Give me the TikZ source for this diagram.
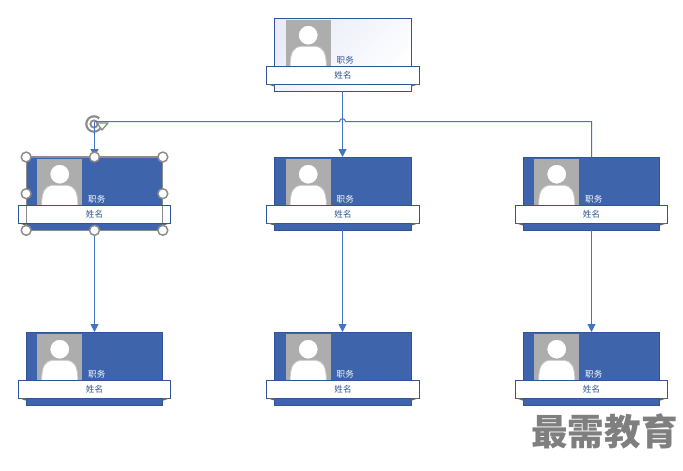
\documentclass[tikz,border=0pt]{standalone}
\usepackage{fontspec}
\newfontfamily\cjk{Noto Sans CJK SC}
\usetikzlibrary{arrows.meta,shadings}
\definecolor{cardblue}{HTML}{3E64AC}
\definecolor{edgeblue}{HTML}{2F5597}
\definecolor{linkblue}{HTML}{4472C4}
\definecolor{photogray}{HTML}{ADADAD}
\definecolor{shadegray}{HTML}{C8C8C8}
\definecolor{handlegray}{HTML}{8C8C8C}
\definecolor{markgray}{HTML}{7F7F7F}
\definecolor{lavender}{HTML}{E9ECF7}
\tikzset{
  x=0.75pt,y=-0.75pt,
  every node/.style={font=\cjk},
  cardbox/.style={draw=edgeblue,line width=0.75pt,fill=cardblue,minimum width=102.5pt,minimum height=55pt,inner sep=0pt,outer sep=0pt},
  banner/.style={draw=edgeblue,line width=0.75pt,fill=white,minimum width=114.6pt,minimum height=13pt,inner sep=0pt,outer sep=0pt,text=edgeblue,font=\cjk\fontsize{6.4}{7}\selectfont},
  jobtxt/.style={inner sep=0pt,text=white,font=\cjk\fontsize{6.4}{7}\selectfont},
  photo/.style={fill=photogray,minimum width=33.75pt,minimum height=34pt,inner sep=0pt,outer sep=0pt},
  link/.style={draw=linkblue,line width=0.75pt},
  linkarrow/.style={link,-{Triangle[length=6pt,width=6pt]}},
  handle/.style={circle,draw=handlegray,line width=1.1pt,fill=white,minimum size=7.4pt,inner sep=0pt},
  foldtip/.style={fill=black!60,draw=none}
}
% #1 name, #2 card node already placed; draws photo, job label, banner
\newcommand{\cardparts}[2]{%
  \node[photo,anchor=north west] (#1p) at ([xshift=8.3pt,yshift=-1.7pt]#1.north west) {};
  \begin{scope}
    \clip (#1p.north west) rectangle (#1p.south east);
    \path[draw=shadegray,line width=0.6pt,fill=white] ([xshift=-13.6pt,yshift=-1pt]#1p.south) .. controls ([xshift=-13.6pt,yshift=11pt]#1p.south) and ([xshift=-10.5pt,yshift=13.5pt]#1p.south) .. ([xshift=-6pt,yshift=14.5pt]#1p.south) -- ([xshift=6pt,yshift=14.5pt]#1p.south) .. controls ([xshift=10.5pt,yshift=13.5pt]#1p.south) and ([xshift=13.6pt,yshift=11pt]#1p.south) .. ([xshift=13.6pt,yshift=-1pt]#1p.south) -- cycle;
    \path[draw=photogray,line width=1pt,fill=white] ([yshift=-11.2pt]#1p.north) circle[radius=7.6pt];
  \end{scope}
  \node[jobtxt,text=#2,anchor=west] (#1j) at ([xshift=4.3pt,yshift=4.2pt]#1p.south east) {职务};
  \node[banner,anchor=north] (#1b) at ([yshift=-36.5pt]#1.north) {姓名};
  \fill[foldtip] (#1b.south west) -- ++(6pt,0pt) -- ++(0pt,-2pt) -- cycle;
  \fill[foldtip] (#1b.south east) -- ++(-6pt,0pt) -- ++(0pt,-2pt) -- cycle;
}
\newcommand{\orgcard}[3]{%
  \node[cardbox,anchor=north] (#1) at (#2,#3) {};
  \cardparts{#1}{white}%
}
\begin{document}
\begin{tikzpicture}
\useasboundingbox (0,0) rectangle (683,471);
\fill[white] (0,0) rectangle (683,471);

% top card
\node[cardbox,anchor=north,fill=white] (t) at (343,18) {};
\shade[left color=lavender,middle color=white,right color=white,shading angle=45] (t.north west) rectangle (t.south east);
\draw[edgeblue,line width=0.75pt] (t.north west) rectangle (t.south east);
\cardparts{t}{edgeblue}

% second and third rows
\orgcard{a}{94.5}{157}
\orgcard{b}{343}{157}
\orgcard{c}{591.5}{157}
\orgcard{d}{94.5}{332}
\orgcard{e}{343}{332}
\orgcard{f}{591.5}{332}

% rotation handle (under the connector)
\node[circle,draw=handlegray,line width=1.6pt,minimum size=11.6pt,inner sep=0pt] (rot) at (94,124) {};
\node[circle,draw=handlegray,line width=1.4pt,minimum size=5.4pt,inner sep=0pt] (roti) at (94,124) {};
\fill[white] (99,118) rectangle (105,122.5);
\draw[handlegray,line width=1pt,fill=white,line join=round] (97,123) -- (108,123) -- (102,130) -- cycle;

% connectors
\coordinate (hl) at (94.5,121.5);
\coordinate (hr) at (591.5,121.5);
\draw[link] (hl) -- (339.5,121.5) .. controls (339.8,117.8) and (345.2,117.8) .. (345.5,121.5) -- (hr) -- (c.north);
\draw[linkarrow] ([xshift=-0.375pt]t.south) -- ([xshift=-0.375pt]b.north);
\draw[linkarrow] (hl) -- (a.north);
\draw[linkarrow] (a.south) -- (d.north);
\draw[linkarrow] ([xshift=-0.375pt]b.south) -- ([xshift=-0.375pt]e.north);
\draw[linkarrow] (c.south) -- (f.north);

% selection frame on the first card
\draw[handlegray,line width=0.9pt] (a.north west) rectangle (a.south east);
\draw[edgeblue,line width=0.75pt] (ab.south west) rectangle (ab.north east);
\node[handle] (h1) at (a.north west) {};
\node[handle] (h2) at (a.north) {};
\node[handle] (h3) at (a.north east) {};
\node[handle] (h4) at (a.west) {};
\node[handle] (h5) at (a.east) {};
\node[handle] (h6) at (a.south west) {};
\node[handle] (h7) at (a.south) {};
\node[handle] (h8) at (a.south east) {};

% watermark
\node[inner sep=0pt,text=markgray,font=\cjk\bfseries\fontsize{27.4}{28}\selectfont,anchor=center] (wm) at (604.5,431) {最需教育};
\end{tikzpicture}
\end{document}
